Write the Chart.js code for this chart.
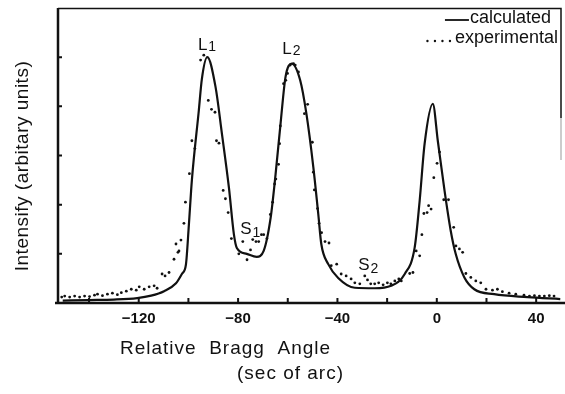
<!DOCTYPE html>
<html>
<head>
<meta charset="utf-8">
<script src="https://cdn.jsdelivr.net/npm/chart.js@4/dist/chart.umd.min.js"></script>
<style>
  html, body { margin: 0; padding: 0; background: #fff; }
  #wrap { width: 565px; height: 394px; }
</style>
</head>
<body>
<div id="wrap"><canvas id="braggChart" width="565" height="394"></canvas></div>
<script>
// ===== DATA =====
// calculated rocking curve (solid line)
const calcX = [-150.6, -140, -130, -120.6, -115, -109.8, -105, -102.5, -101, -99.8, -98.6, -95.8, -94.6, -92.4,
  -89.1, -86.5, -83.7, -81.7, -80.5, -76.5, -72.5, -69.7, -66.9, -64.9, -62.9, -60.9, -58.4,
  -55, -52.5, -49.7, -47.7, -46.5, -43.7, -39.7, -33, -25, -18.4, -12.9, -8.9, -6.9, -4.9, -1.6,
  0.4, 3.1, 5.6, 7.6, 11.1, 15.1, 23.1, 36.5, 49.7];
const calcY = [0.05, 0.06, 0.07, 0.10, 0.15, 0.24, 0.40, 0.60, 0.78, 1.60, 2.50, 3.92, 4.55, 5.00,
  4.40, 3.44, 2.35, 1.40, 1.12, 1.00, 0.94, 1.06, 1.73, 2.62, 3.65, 4.60, 4.87,
  4.53, 3.85, 2.76, 1.80, 1.20, 0.79, 0.51, 0.31, 0.30, 0.35, 0.59, 1.13, 2.08, 3.24, 4.05,
  3.30, 2.29, 1.47, 1.00, 0.52, 0.28, 0.18, 0.12, 0.08];

// experimental points (dots)
const expX = [-151.0, -149.8, -147.8, -145.8, -143.8, -141.8, -139.8, -137.8, -136.6, -134.6, -132.6, -130.6,
  -128.6, -127.0, -125.0, -123.0, -121.0, -119.8, -117.8, -115.8, -113.8, -112.6, -110.6, -109.4,
  -107.8, -105.8, -105.0, -104.2, -103.8, -103.0, -101.8, -101.2, -99.6, -98.6, -97.4, -95.1, -93.8,
  -92.0, -90.7, -89.3, -88.7, -87.7, -86.0, -85.1, -84.0, -82.7, -79.7, -78.1, -76.4, -75.0, -74.1,
  -72.8, -71.7, -70.6, -69.7, -68.4, -67.0, -66.1, -65.3, -64.8, -63.7, -63.3, -63.0, -61.7, -60.8,
  -60.1, -59.0, -57.7, -57.0, -55.7, -53.3, -52.0, -50.1, -49.7, -49.3, -48.0, -47.4, -46.4, -45.0,
  -43.4, -42.5, -40.3, -38.5, -36.5, -34.5, -33.0, -31.0, -29.0, -27.9, -26.6, -25.0, -23.4, -21.6,
  -19.9, -18.5, -16.9, -15.3, -14.3, -10.9, -9.6, -8.3, -6.9, -6.0, -5.2, -3.9, -3.3, -2.3, -1.2,
  0.1, 1.1, 2.8, 4.7, 6.8, 7.7, 9.1, 10.4, 11.7, 13.7, 15.7, 17.7, 19.8, 22.4, 24.4, 26.4, 29.1,
  31.8, 35.1, 37.3, 39.3, 41.3, 43.3, 45.3, 47.2];
const expY = [0.12, 0.14, 0.12, 0.14, 0.12, 0.14, 0.13, 0.16, 0.18, 0.15, 0.18, 0.20,
  0.17, 0.21, 0.24, 0.28, 0.26, 0.33, 0.28, 0.33, 0.35, 0.30, 0.59, 0.55,
  0.62, 0.89, 1.20, 1.03, 1.06, 1.28, 1.62, 2.05, 2.63, 3.30, 3.14, 4.94, 5.04,
  4.12, 3.94, 3.88, 3.30, 3.25, 2.29, 2.12, 1.84, 1.31, 1.00, 1.25, 0.88, 1.08, 1.29,
  1.25, 1.25, 1.39, 1.39, 1.31, 1.80, 2.05, 2.42, 2.52, 2.82, 3.24, 3.60, 4.46, 4.53,
  4.67, 4.84, 4.87, 4.84, 4.70, 3.85, 4.04, 3.27, 2.66, 2.30, 1.92, 1.62, 1.43, 1.25,
  1.22, 0.76, 0.79, 0.59, 0.55, 0.49, 0.41, 0.39, 0.55, 0.47, 0.39, 0.39, 0.41, 0.37,
  0.41, 0.39, 0.45, 0.49, 0.45, 0.60, 0.62, 1.06, 0.96, 1.39, 1.82, 1.84, 1.98, 1.91, 2.55,
  2.84, 3.07, 2.10, 2.10, 1.54, 1.16, 1.10, 1.03, 0.60, 0.52, 0.45, 0.41, 0.28, 0.26, 0.28, 0.23, 0.20,
  0.18, 0.16, 0.14, 0.15, 0.14, 0.14, 0.15, 0.14];

// axis ticks
const xTicks = [-140, -120, -100, -80, -60, -40, -20, 0, 20, 40];
const yTicks = [1, 2, 3, 4, 5];

// peak labels
const peakName = ['L', 'L', 'S', 'S'];
const peakSub = ['1', '2', '1', '2'];
const peakX = [-92.5, -58.5, -75.1, -27.6];
const peakY = [5.27, 5.18, 1.53, 0.80];

const FONT = '"Liberation Sans", Arial, Helvetica, sans-serif';
const INK = '#111';

// ===== PLUGIN: frame, inward ticks, titles, legend, labels =====
const decorations = {
  id: 'decorations',
  afterDraw(chart) {
    const { ctx, chartArea: a, scales } = chart;
    const xs = scales.x, ys = scales.y;
    ctx.save();

    // frame: top edge and the upper part of the right edge (the rest is faded in the print)
    ctx.strokeStyle = INK;
    ctx.lineWidth = 1.5;
    ctx.beginPath();
    ctx.moveTo(a.left, a.top + 0.5);
    ctx.lineTo(a.right, a.top + 0.5);
    ctx.lineTo(a.right, a.top + 110);
    ctx.stroke();
    ctx.strokeStyle = '#999';
    ctx.lineWidth = 1;
    ctx.beginPath();
    ctx.moveTo(a.right, a.top + 110);
    ctx.lineTo(a.right, a.top + 152);
    ctx.stroke();

    ctx.strokeStyle = INK;
    ctx.lineWidth = 2.5;
    ctx.beginPath();
    ctx.moveTo(a.left, a.top);
    ctx.lineTo(a.left, a.bottom);
    ctx.moveTo(a.left - 3, a.bottom);
    ctx.lineTo(chart.width, a.bottom);
    ctx.stroke();

    // inward tick marks
    ctx.lineWidth = 2;
    ctx.beginPath();
    xTicks.forEach(v => {
      const px = xs.getPixelForValue(v);
      ctx.moveTo(px, a.bottom);
      ctx.lineTo(px, a.bottom - 5);
    });
    yTicks.forEach(v => {
      const py = ys.getPixelForValue(v);
      ctx.moveTo(a.left, py);
      ctx.lineTo(a.left + 4, py);
    });
    ctx.stroke();

    ctx.fillStyle = INK;

    // y title
    ctx.save();
    ctx.translate(23, 166);
    ctx.rotate(-Math.PI / 2);
    ctx.font = '19px ' + FONT;
    ctx.letterSpacing = '0.5px';
    ctx.textAlign = 'center';
    ctx.textBaseline = 'middle';
    ctx.fillText('Intensify (arbitary units)', 0, 0);
    ctx.restore();

    // x title, two lines
    ctx.font = '19px ' + FONT;
    ctx.textAlign = 'left';
    ctx.textBaseline = 'middle';
    ctx.letterSpacing = '1px';
    ctx.fillText('Relative  Bragg  Angle', 120, a.bottom + 46);
    ctx.fillText('(sec of arc)', 237, a.bottom + 71);
    ctx.letterSpacing = '0px';

    // legend, top right inside the frame
    ctx.font = '18px ' + FONT;
    ctx.textAlign = 'right';
    const t1x = a.right - 10, t1y = a.top + 10;
    const t2x = a.right - 3, t2y = a.top + 30;
    ctx.fillText('calculated', t1x, t1y);
    ctx.fillText('experimental', t2x, t2y);
    const w1 = ctx.measureText('calculated').width;
    const w2 = ctx.measureText('experimental').width;
    ctx.lineWidth = 1.8;
    ctx.beginPath();
    ctx.moveTo(t1x - w1 - 25, t1y + 2);
    ctx.lineTo(t1x - w1 - 1, t1y + 2);
    ctx.stroke();
    for (let i = 0; i < 4; i++) {
      ctx.beginPath();
      ctx.arc(t2x - w2 - 5 - i * 7.5, t2y + 3, 1.2, 0, Math.PI * 2);
      ctx.fill();
    }

    // peak labels
    ctx.textBaseline = 'alphabetic';
    peakName.forEach((name, i) => {
      const px = xs.getPixelForValue(peakX[i]);
      const py = ys.getPixelForValue(peakY[i]);
      ctx.font = '17px ' + FONT;
      const wm = ctx.measureText(name).width;
      ctx.font = '14px ' + FONT;
      const ws = ctx.measureText(peakSub[i]).width;
      const x0 = px - (wm + ws + 1) / 2;
      ctx.textAlign = 'left';
      ctx.font = '17px ' + FONT;
      ctx.fillText(name, x0, py + 6);
      ctx.font = '14px ' + FONT;
      ctx.fillText(peakSub[i], x0 + wm + 1, py + (name === 'S' ? 9 : 7));
    });

    ctx.restore();
  }
};

// ===== CHART =====
const ctx = document.getElementById('braggChart').getContext('2d');

new Chart(ctx, {
  type: 'scatter',
  data: {
    datasets: [
      {
        label: 'calculated',
        data: calcX.map((x, i) => ({ x, y: calcY[i] })),
        showLine: true,
        borderColor: INK,
        borderWidth: 2.2,
        pointRadius: 0,
        cubicInterpolationMode: 'monotone',
        fill: false,
      },
      {
        label: 'experimental',
        data: expX.map((x, i) => ({ x, y: expY[i] })),
        showLine: false,
        pointRadius: 1.4,
        pointBorderWidth: 0,
        pointBackgroundColor: INK,
      }
    ]
  },
  options: {
    responsive: false,
    animation: false,
    layout: { padding: { top: 8, left: 58, right: 2, bottom: 59 } },
    plugins: {
      legend: { display: false },
      tooltip: { enabled: false }
    },
    scales: {
      x: {
        type: 'linear',
        min: -152.5,
        max: 50,
        grid: { display: false, drawTicks: false },
        border: { display: false },
        ticks: {
          stepSize: 20,
          includeBounds: false,
          autoSkip: false,
          maxRotation: 0,
          padding: 7,
          color: INK,
          font: { family: FONT, size: 15, weight: 'bold' },
          callback: v => (v % 40 === 0 ? (v < 0 ? '\u2212' + Math.abs(v) : String(v)) : '')
        }
      },
      y: {
        type: 'linear',
        min: 0,
        max: 6,
        display: false
      }
    }
  },
  plugins: [decorations]
});
</script>
</body>
</html>
